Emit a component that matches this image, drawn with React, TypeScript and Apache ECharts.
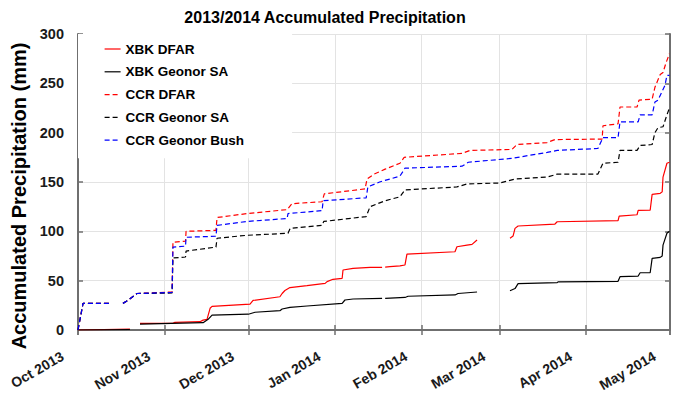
import React, { useEffect, useRef } from "react";
import * as echarts from "echarts";

// Days since 2013-10-01 and accumulated precipitation (mm); null marks a data gap
type P = [number, number | null];

const seriesNames = ["XBK DFAR", "XBK Geonor SA", "CCR DFAR", "CCR Geonor SA", "CCR Geonor Bush"];
const monthNames = ["Jan", "Feb", "Mar", "Apr", "May", "Jun", "Jul", "Aug", "Sep", "Oct", "Nov", "Dec"];
const yTicks = [0, 50, 100, 150, 200, 250, 300];

const xbkDfar: P[] = [
  [0, 0], [18.6, 0.8], [20, null],
  [22.2, 6.8], [34, 6.8], [34.7, 7.8], [43.7, 8.4], [44.8, 10], [46.2, 10.8], [47.3, 22], [48, 24],
  [61.6, 26.3], [62.7, 30], [72.3, 33.7], [73.1, 37], [74.1, 40], [75.9, 43], [82, 45], [88.5, 47.3],
  [89.2, 49], [91.3, 51.4], [94.6, 52.4], [94.9, 60.8], [98.5, 62.5], [104.6, 63.5], [108.9, 63.5], [109.4, null],
  [110, 63.8], [111.7, 64.2], [115.3, 65], [117.1, 65.9], [117.8, 77], [135, 79.3], [135.7, 84.4],
  [139.3, 86], [141.1, 86.8], [142.9, 91.2], [149, null],
  [154.7, 93], [155.8, 95.2], [156.5, 103], [157.6, 105.4], [170.8, 107.4], [171.6, 109.7],
  [193.4, 110.8], [193.8, 115.5], [200.2, 116.8], [200.6, 121.2], [204.9, 121.4], [205.6, 137.5],
  [208.5, 138.5], [209.2, 140], [209.5, 155], [210.9, 169], [211.8, 170],
];

const xbkGeonorSA: P[] = [
  [0, 0], [18.6, 0.5], [20, null],
  [22.2, 6], [44.8, 7.4], [46.6, 10.8], [48, 15], [61, 16], [63.4, 18], [72.3, 19.6], [73.1, 21.3],
  [75.9, 23], [82, 24.3], [94.6, 27], [95.6, 30.4], [98.5, 31.4], [108.9, 32], [109.4, null],
  [110, 32.1], [117.1, 33], [118.2, 34.2], [135, 35.5], [136.1, 37], [142.9, 38.5], [149, null],
  [154.7, 39.8], [156.5, 42], [157.6, 47], [171.6, 48], [171.9, 48.8], [193.4, 49.3], [194.1, 54],
  [200.6, 54.7], [201.3, 58], [204.9, 58], [205.6, 72.6], [208.5, 73.6], [209.2, 75], [209.5, 86],
  [210.9, 98], [211.8, 100],
];

const ccrDfar: P[] = [
  [0, 0], [1.8, 27], [11.5, 27], [14, null],
  [16.1, 27], [17.9, 30], [21.1, 37], [33.7, 38.5], [34, 89], [38.5, 90], [38.7, 100], [49.4, 101],
  [49.8, 114], [60.5, 118], [74.9, 122], [76.6, 128], [87.4, 130], [88.2, 138], [102.8, 143],
  [103.5, 153], [106, 158], [110, 163], [115.3, 169], [116.8, 175], [137.5, 179], [140.4, 182],
  [155.4, 183], [157.2, 188], [168, 190], [170.8, 193], [187.7, 193.5], [188, 207], [193.4, 209],
  [194.1, 226], [200.2, 226], [200.9, 233], [205.6, 234], [206.6, 246], [208.5, 259], [209.5, 261],
  [210.6, 271], [211.8, 280],
];

const ccrGeonorSA: P[] = [
  [0, 0], [1.8, 27], [11.5, 27], [14, null],
  [16.1, 27], [17.9, 30], [21.1, 37], [33.7, 37.5], [34, 73], [38.5, 74], [38.7, 80], [49.4, 84],
  [49.8, 93], [60.5, 96], [75.2, 98], [76, 103], [87.4, 106], [88, 110], [103.2, 115], [104.6, 125],
  [110, 131], [115.3, 135], [117.1, 142], [135.7, 145], [139.3, 148], [151, 149], [156.5, 153],
  [168, 155], [171.6, 158], [186.2, 158], [188, 169], [193.4, 170], [194.1, 182], [200.2, 182],
  [201.3, 187], [205.6, 188], [206.6, 200], [207.7, 205], [209.5, 206], [210.9, 218], [211.8, 225],
];

const ccrGeonorBush: P[] = [
  [0, 0], [1.8, 27], [11.5, 27], [14, null],
  [16.1, 27], [17.9, 30], [21.1, 37], [33.7, 38], [34, 84], [38.5, 85], [38.7, 94], [49.4, 95],
  [49.8, 106], [60.5, 110], [74.9, 113], [75.2, 118], [87.4, 121], [87.8, 131], [103.2, 134],
  [103.8, 145], [108, 150], [115.3, 156], [117.1, 164], [137.5, 166], [139.8, 170], [155.4, 174],
  [168, 180], [171.6, 182], [186.2, 184], [188, 195], [193.4, 195], [194.1, 211], [200.6, 211],
  [201.3, 218], [205.6, 218], [206.6, 231], [207.7, 233], [210.2, 248], [210.9, 258], [211.8, 258],
];

const seriesData: P[][] = [xbkDfar, xbkGeonorSA, ccrDfar, ccrGeonorSA, ccrGeonorBush];
const seriesColors = ["#ff0000", "#000000", "#ff0000", "#000000", "#0000ff"];
const seriesDashed = [false, false, true, true, true];

const DAY = 86400000;
const START = new Date(2013, 9, 1).getTime();
const END = new Date(2014, 4, 1).getTime();

const toSeries = (pts: P[]) =>
  pts.map(([d, v]) => [START + d * DAY, v === null ? "-" : v]);

const FONT = "'Liberation Sans', Arial, Helvetica, sans-serif";
const AXIS_COLOR = "#6f6f6f";
const GRID_COLOR = "#e3e3e3";

export default function App() {
  const ref = useRef<HTMLDivElement>(null);
  useEffect(() => {
    if (!ref.current) return;
    const chart = echarts.init(ref.current, undefined, { renderer: "svg" });
    const grid = { left: 78, right: 4, top: 34, bottom: 72 };
    const option: any = {
      animation: false,
      backgroundColor: "#ffffff",
      grid,
      textStyle: { fontFamily: FONT },
      graphic: [
        {
          type: "text",
          x: 325,
          y: 17,
          style: {
            text: "2013/2014 Accumulated Precipitation",
            font: `bold 16px ${FONT}`,
            fill: "#000",
            textAlign: "center",
            textVerticalAlign: "middle",
          },
        },
        {
          type: "text",
          x: 19,
          y: 196,
          rotation: Math.PI / 2,
          style: {
            text: "Accumulated Precipitation (mm)",
            font: `bold 20px ${FONT}`,
            fill: "#000",
            textAlign: "center",
            textVerticalAlign: "middle",
          },
        },
      ],
      legend: {
        data: seriesNames,
        orient: "vertical",
        left: 78,
        top: 34,
        backgroundColor: "#ffffff",
        padding: [7, 48, 10, 26],
        itemGap: 6.8,
        itemWidth: 16,
        itemHeight: 14,
        itemStyle: { opacity: 0, borderWidth: 0 },
        lineStyle: { width: 1.2 },
        textStyle: { fontFamily: FONT, fontWeight: "bold", fontSize: 13.5, color: "#000", lineHeight: 16 },
        z: 10,
      },
      xAxis: [
        {
          type: "time",
          min: START,
          max: END,
          splitNumber: 7,
          axisLine: { show: true, lineStyle: { color: AXIS_COLOR, width: 2 } },
          axisTick: { show: true, inside: true, length: 5, lineStyle: { color: AXIS_COLOR, width: 1.5 } },
          splitLine: { show: true, lineStyle: { color: GRID_COLOR, width: 1 } },
          axisLabel: {
            show: true,
            rotate: 30,
            margin: 16,
            padding: [0, 18, 0, 0],
            showMinLabel: true,
            showMaxLabel: true,
            hideOverlap: false,
            fontFamily: FONT,
            fontWeight: "bold",
            fontSize: 14,
            color: "#1a1a1a",
            formatter: (v: number) => {
              const d = new Date(v);
              return `${monthNames[d.getMonth()]} ${d.getFullYear()}`;
            },
          },
        },
        {
          type: "time",
          position: "top",
          min: START,
          max: END,
          splitNumber: 7,
          axisLine: { show: true, lineStyle: { color: AXIS_COLOR, width: 2 } },
          axisTick: { show: true, inside: true, length: 5, lineStyle: { color: AXIS_COLOR, width: 1.5 } },
          splitLine: { show: false },
          axisLabel: { show: false },
        },
      ],
      yAxis: [
        {
          type: "value",
          min: yTicks[0],
          max: yTicks[yTicks.length - 1],
          interval: 50,
          axisLine: { show: true, lineStyle: { color: AXIS_COLOR, width: 2 } },
          axisTick: { show: true, inside: true, length: 5, lineStyle: { color: AXIS_COLOR, width: 1.5 } },
          splitLine: { show: true, lineStyle: { color: GRID_COLOR, width: 1 } },
          axisLabel: {
            margin: 14,
            fontFamily: FONT,
            fontWeight: "bold",
            fontSize: 14.5,
            color: "#1a1a1a",
          },
        },
        {
          type: "value",
          position: "right",
          min: yTicks[0],
          max: yTicks[yTicks.length - 1],
          interval: 50,
          axisLine: { show: true, lineStyle: { color: AXIS_COLOR, width: 2 } },
          axisTick: { show: true, inside: true, length: 5, lineStyle: { color: AXIS_COLOR, width: 1.5 } },
          splitLine: { show: false },
          axisLabel: { show: false },
        },
      ],
      series: seriesNames.map((name, i) => ({
        name,
        type: "line",
        xAxisIndex: 0,
        yAxisIndex: 0,
        data: toSeries(seriesData[i]),
        symbol: "none",
        connectNulls: false,
        color: seriesColors[i],
        lineStyle: {
          color: seriesColors[i],
          width: 1.2,
          type: seriesDashed[i] ? [5, 3] : "solid",
        },
        z: 2 + i,
      })),
    };
    chart.setOption(option);
    return () => chart.dispose();
  }, []);
  return <div ref={ref} style={{ width: 674, height: 402, position: "absolute", left: 0, top: 0 }} />;
}
